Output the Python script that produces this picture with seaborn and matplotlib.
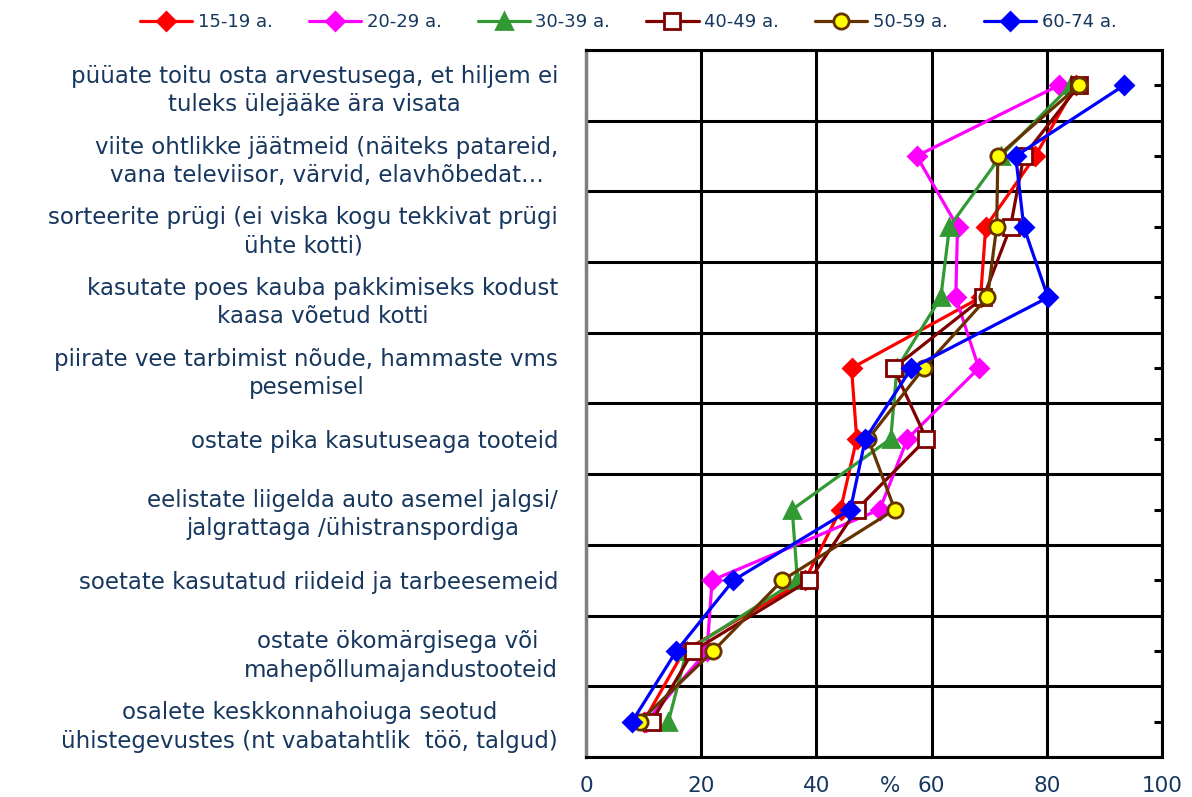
import numpy as np
import pandas as pd
import seaborn as sns
import matplotlib.pyplot as plt
from matplotlib.lines import Line2D
from matplotlib.transforms import blended_transform_factory

# --- DATA ---
categories = [
    "püüate toitu osta arvestusega, et hiljem ei\ntuleks ülejääke ära visata",
    "viite ohtlikke jäätmeid (näiteks patareid,\nvana televiisor, värvid, elavhõbedat…",
    "sorteerite prügi (ei viska kogu tekkivat prügi\nühte kotti)",
    "kasutate poes kauba pakkimiseks kodust\nkaasa võetud kotti",
    "piirate vee tarbimist nõude, hammaste vms\npesemisel",
    "ostate pika kasutuseaga tooteid",
    "eelistate liigelda auto asemel jalgsi/\njalgrattaga /ühistranspordiga",
    "soetate kasutatud riideid ja tarbeesemeid",
    "ostate ökomärgisega või \nmahepõllumajandustooteid",
    "osalete keskkonnahoiuga seotud\nühistegevustes (nt vabatahtlik  töö, talgud)",
]
age_groups = ["15-19 a.", "20-29 a.", "30-39 a.", "40-49 a.", "50-59 a.", "60-74 a."]

v_15_19 = [85.0, 78.0, 69.4, 68.5, 46.1, 47.0, 44.2, 38.0, 17.0, 10.0]
v_20_29 = [82.1, 57.4, 64.5, 64.2, 68.2, 55.8, 51.0, 21.9, 21.0, 10.5]
v_30_39 = [84.2, 72.0, 63.1, 61.6, 54.0, 52.9, 35.8, 36.7, 17.5, 14.3]
v_40_49 = [85.6, 76.0, 73.7, 69.0, 53.4, 59.1, 47.0, 38.8, 18.6, 11.4]
v_50_59 = [85.6, 71.5, 71.3, 69.7, 58.6, 49.0, 53.6, 34.1, 22.1, 9.3]
v_60_74 = [93.4, 74.6, 76.0, 80.2, 56.5, 48.5, 45.9, 25.6, 15.7, 8.0]

x_ticks = [0, 20, 40, 60, 80, 100]

series = [v_15_19, v_20_29, v_30_39, v_40_49, v_50_59, v_60_74]

# style per group: line colour, marker, marker face
styles = {
    "15-19 a.": dict(color="#FF0000", marker="D", markersize=9.5, markerfacecolor="#FF0000", markeredgecolor="#FF0000"),
    "20-29 a.": dict(color="#FF00FF", marker="D", markersize=9.5, markerfacecolor="#FF00FF", markeredgecolor="#FF00FF"),
    "30-39 a.": dict(color="#339933", marker="^", markersize=11, markerfacecolor="#339933", markeredgecolor="#339933"),
    "40-49 a.": dict(color="#800000", marker="s", markersize=11, markerfacecolor="white", markeredgecolor="#800000"),
    "50-59 a.": dict(color="#663300", marker="o", markersize=11, markerfacecolor="#FFFF00", markeredgecolor="#663300"),
    "60-74 a.": dict(color="#0000FF", marker="D", markersize=9.5, markerfacecolor="#0000FF", markeredgecolor="#0000FF"),
}

text_color = "#17375E"

rows = []
for g, vals in zip(age_groups, series):
    for i, v in enumerate(vals):
        rows.append({"group": g, "pos": i, "value": v})
df = pd.DataFrame(rows)

sns.set_style("white")
plt.rcParams["font.family"] = ["DejaVu Sans"]

fig = plt.figure(figsize=(11.92, 7.97), dpi=100)
ax = fig.add_axes([586 / 1192, 1 - 757 / 797, (1162 - 586) / 1192, (757 - 50) / 797])

for g in age_groups:
    sub = df[df["group"] == g]
    sns.lineplot(data=sub, x="value", y="pos", sort=False, estimator=None,
                 linewidth=2.3, markeredgewidth=2, ax=ax, legend=False,
                 zorder=3, **styles[g])

ax.set_xlim(0, 100)
ax.set_ylim(len(categories) - 0.5, -0.5)
ax.set_xticks(x_ticks)
ax.set_xticklabels([str(t) for t in x_ticks], fontsize=15.5, color=text_color)
ax.set_yticks(range(len(categories)))
ax.set_yticklabels(categories, fontsize=16.5, color=text_color,
                   multialignment="center", linespacing=1.3)
ax.set_yticks(np.arange(-0.5, len(categories), 1), minor=True)
ax.set_xlabel("")
ax.set_ylabel("")

# grid lines
ax.grid(False)
ax.grid(axis="x", which="major", color="black", linewidth=2.2, zorder=1)
ax.grid(axis="y", which="minor", color="black", linewidth=2.2, zorder=1)

ax.tick_params(axis="y", which="major", left=False, right=True, direction="in",
               length=6, width=2.2, color="black", labelleft=True, labelright=False, pad=20)
ax.tick_params(axis="y", which="minor", left=False, right=False)
ax.tick_params(axis="x", which="major", direction="out", length=6, width=2.2,
               color="black", pad=8)

for s in ["top", "right", "bottom"]:
    ax.spines[s].set_color("black")
    ax.spines[s].set_linewidth(2.2)
ax.spines["left"].set_color("#808080")
ax.spines["left"].set_linewidth(2.5)

# "%" axis title next to 60, on the tick-label line
trans = blended_transform_factory(ax.transData, ax.transAxes)
ax.annotate("%", xy=(52.8, 0), xycoords=trans, xytext=(0, -14),
            textcoords="offset points", ha="center", va="top",
            fontsize=15.5, color=text_color)

# legend
handles = [Line2D([0], [0], linewidth=2.3, markeredgewidth=2, **styles[g]) for g in age_groups]
fig.legend(handles, age_groups, loc="center", bbox_to_anchor=(0.527, 0.972), ncol=6,
           frameon=False, fontsize=13, labelcolor=text_color, handlelength=2.9,
           handletextpad=0.3, columnspacing=2.0)

fig.savefig("out.png", dpi=100, facecolor="white")
